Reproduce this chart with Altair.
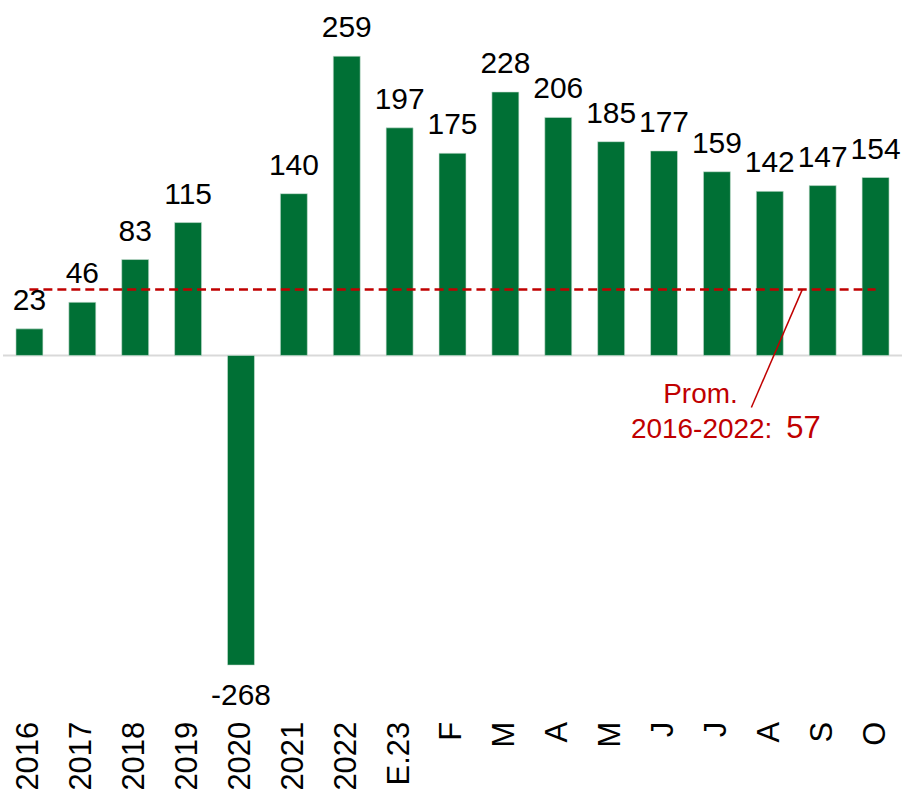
import altair as alt
import pandas as pd

keys = ["2016", "2017", "2018", "2019", "2020", "2021", "2022", "E.23",
        "F", "M_1", "A_1", "M_2", "J_1", "J_2", "A_2", "S", "O"]
values = [23, 46, 83, 115, -268, 140, 259, 197, 175, 228, 206, 185, 177, 159, 142, 147, 154]
avg_value = 57

df = pd.DataFrame({"key": keys, "value": values})
avg_df = pd.DataFrame({"start": [keys[0]], "end": [keys[-1]], "avg": [avg_value]})
zero_df = pd.DataFrame({"zero": [0]})

FONT = "Liberation Sans"
GREEN = "#007035"
RED = "#C00000"

x_scale = alt.Scale(domain=keys, paddingInner=0.49, paddingOuter=0.245)
y_scale = alt.Scale(domain=[-309.7, 306], nice=False, zero=False)

x_enc = alt.X("key:N", scale=x_scale,
              axis=alt.Axis(title=None, domain=False, ticks=False, labelAngle=-90,
                            labelPadding=8, labelFontSize=31, labelColor="black",
                            labelFont=FONT,
                            labelExpr="indexof(datum.value,'_')>0 ? substring(datum.value,0,indexof(datum.value,'_')) : datum.value"))

base = alt.Chart(df).transform_calculate(lbl="'' + datum.value", zero="0")

bars = base.mark_bar(color=GREEN, stroke="#cfe3d6", strokeWidth=0.6).encode(
    x=x_enc,
    y=alt.Y("value:Q", scale=y_scale, axis=None),
    y2=alt.Y2("zero:Q"),
)

zero = alt.Chart(zero_df).mark_rule(color="#D9D9D9", strokeWidth=2).encode(
    y=alt.Y("zero:Q", scale=y_scale, axis=None)
)

labels_pos = base.transform_filter("datum.value >= 0").mark_text(
    baseline="alphabetic", dy=-19, fontSize=30, font=FONT, color="black"
).encode(x=alt.X("key:N", scale=x_scale), y=alt.Y("value:Q", scale=y_scale), text="lbl:N")

labels_neg = base.transform_filter("datum.value < 0").mark_text(
    baseline="top", dy=16, fontSize=30, font=FONT, color="black"
).encode(x=alt.X("key:N", scale=x_scale), y=alt.Y("value:Q", scale=y_scale), text="lbl:N")

avg_line = alt.Chart(avg_df).mark_rule(color=RED, strokeWidth=2.5, strokeDash=[9, 5]).encode(
    x=alt.X("start:N", scale=x_scale), x2="end:N", y=alt.Y("avg:Q", scale=y_scale)
)

leader_df = pd.DataFrame({"top": [avg_value], "bottom": [-45]})
leader = alt.Chart(leader_df).mark_rule(color=RED, strokeWidth=1.5).encode(
    x=alt.value(801), x2=alt.value(750),
    y=alt.Y("top:Q", scale=y_scale), y2="bottom:Q"
)

ann_df = pd.DataFrame({"txt": ["Prom.", "2016-2022:", str(avg_value)]})
t1 = alt.Chart(ann_df).transform_filter("datum.txt == 'Prom.'").mark_text(
    fontSize=28, font=FONT, color=RED, align="center", baseline="alphabetic"
).encode(x=alt.value(699), y=alt.value(402), text="txt:N")
t2 = alt.Chart(ann_df).transform_filter("datum.txt == '2016-2022:'").mark_text(
    fontSize=28, font=FONT, color=RED, align="right", baseline="alphabetic"
).encode(x=alt.value(771), y=alt.value(437), text="txt:N")
t3 = alt.Chart(ann_df).transform_filter("datum.txt == '57'").mark_text(
    fontSize=31, font=FONT, color=RED, align="left", baseline="alphabetic"
).encode(x=alt.value(785), y=alt.value(437), text="txt:N")

chart = alt.layer(zero, bars, avg_line, leader, labels_pos, labels_neg, t1, t2, t3).properties(
    width=901, height=713,
    padding={"left": 2, "top": 1, "right": 5, "bottom": 0},
).configure(font=FONT).configure_view(stroke=None)

chart.save("out.html", embed_options={"renderer": "svg", "actions": False})
